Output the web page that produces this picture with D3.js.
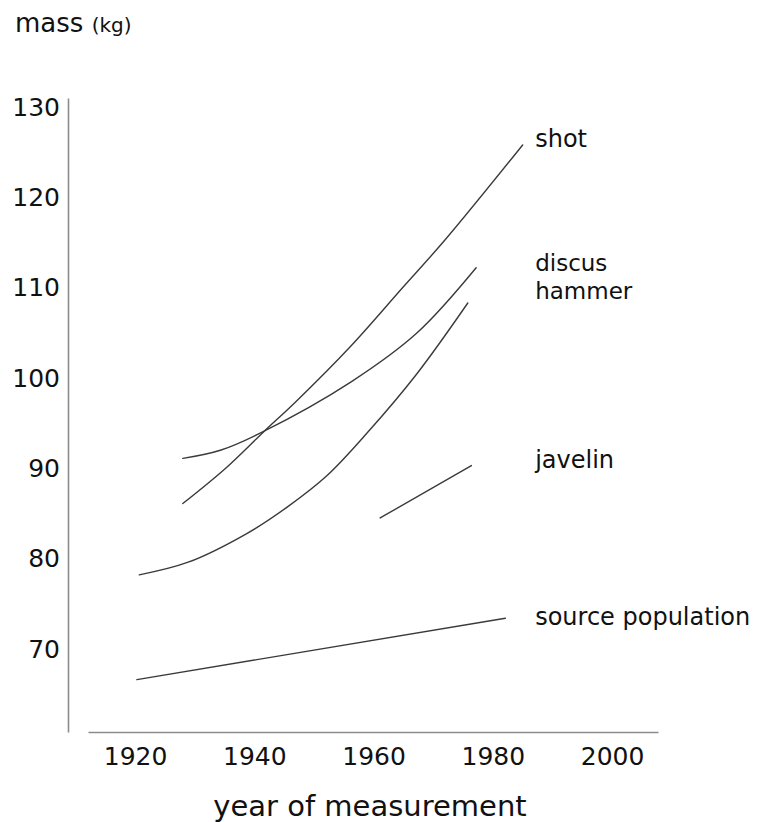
<!DOCTYPE html>
<html>
<head>
<meta charset="utf-8">
<script src="https://cdn.jsdelivr.net/npm/d3@7"></script>
<style>
  html, body { margin: 0; padding: 0; background: #fff; }
  svg { display: block; }
  text { font-family: "DejaVu Sans", "Noto Sans", sans-serif; fill: #111; }
</style>
</head>
<body>
<svg id="chart" width="757" height="822"></svg>
<script>
// ---- data ----
const yTicks = [70, 80, 90, 100, 110, 120, 130];
const xTicks = [1920, 1940, 1960, 1980, 2000];

const shotYears   = [1928, 1935, 1941.5, 1947, 1956, 1965, 1972, 1985];
const shotMass    = [86.0, 89.8, 93.9, 97.3, 103.3, 110.0, 115.2, 125.7];

const discusYears = [1928, 1934.3, 1941.3, 1956.3, 1967.3, 1977.2];
const discusMass  = [91.0, 91.9, 93.9, 99.5, 104.9, 112.1];

const hammerYears = [1920.7, 1928.9, 1938.8, 1945.5, 1952.2, 1958.9, 1967.3, 1975.8];
const hammerMass  = [78.1, 79.5, 82.7, 85.6, 89.1, 93.8, 100.4, 108.2];

const javelinYears = [1961.1, 1976.4];
const javelinMass  = [84.4, 90.2];

const sourceYears = [1920.3, 1982.1];
const sourceMass  = [66.5, 73.3];

const seriesLabels = ["shot", "discus", "hammer", "javelin", "source population"];

// ---- layout ----
const FONT = "'DejaVu Sans', 'Noto Sans', sans-serif";
const svg = d3.select("#chart");
const x = d3.scaleLinear().domain([1912.1, 2007.7]).range([88, 658]);
const y = d3.scaleLinear().domain([60.7, 130.9]).range([732, 98]);

// y axis
const yAxis = svg.append("g")
  .attr("transform", "translate(68,0)")
  .call(d3.axisLeft(y).tickValues(yTicks).tickSize(0).tickSizeOuter(0).tickPadding(8).tickFormat(d3.format("d")));
yAxis.select(".domain").attr("stroke", "#8c8c8c").attr("stroke-width", 1.6);
yAxis.selectAll("text")
  .attr("font-size", 25).attr("fill", "#111")
  .style("font-family", FONT)
  .attr("dy", "0.36em");

// x axis
const xAxis = svg.append("g")
  .attr("transform", "translate(0,732)")
  .call(d3.axisBottom(x).tickValues(xTicks).tickSize(0).tickSizeOuter(0).tickPadding(15).tickFormat(d3.format("d")));
xAxis.select(".domain").attr("stroke", "#8c8c8c").attr("stroke-width", 1.6);
xAxis.selectAll("text")
  .attr("font-size", 25).attr("fill", "#111")
  .style("font-family", FONT);

// axis titles
const massT = svg.append("text").attr("x", 15).attr("y", 32);
massT.append("tspan").attr("font-size", 26).text("mass ");
massT.append("tspan").attr("font-size", 20).text("(kg)");

svg.append("text").attr("x", 370).attr("y", 816)
  .attr("text-anchor", "middle").attr("font-size", 29)
  .text("year of measurement");

// series lines
const line = d3.line()
  .x(d => x(d[0])).y(d => y(d[1]))
  .curve(d3.curveCatmullRom.alpha(0.5));

const series = [
  [shotYears, shotMass],
  [discusYears, discusMass],
  [hammerYears, hammerMass],
  [javelinYears, javelinMass],
  [sourceYears, sourceMass]
];
svg.append("g").selectAll("path")
  .data(series)
  .join("path")
  .attr("d", s => line(s[0].map((yr, i) => [yr, s[1][i]])))
  .attr("fill", "none")
  .attr("stroke", "#3a3a3a")
  .attr("stroke-width", 1.4)
  .attr("stroke-linecap", "round");

// series labels beside line ends
const lx = x(1987.1);
const lbl = svg.append("g").attr("font-size", 24);
lbl.append("text").attr("x", lx).attr("y", y(125.46)).text(seriesLabels[0]);
lbl.append("text").attr("x", lx).attr("y", y(111.7)).attr("font-size", 23).text(seriesLabels[1]);
lbl.append("text").attr("x", lx).attr("y", y(108.6)).attr("font-size", 23).text(seriesLabels[2]);
lbl.append("text").attr("x", lx).attr("y", y(89.9)).text(seriesLabels[3]);
lbl.append("text").attr("x", lx).attr("y", y(72.55)).text(seriesLabels[4]);
</script>
</body>
</html>
